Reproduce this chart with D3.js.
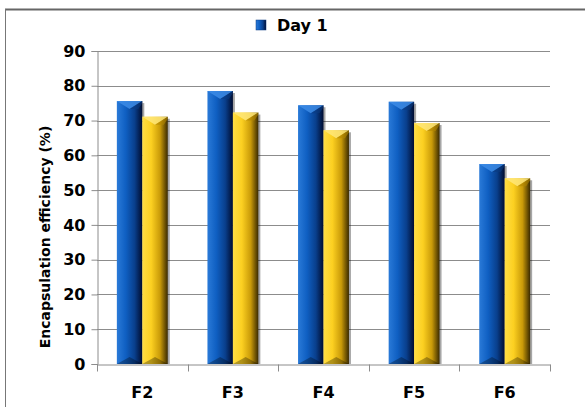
<!DOCTYPE html>
<html>
<head>
<meta charset="utf-8">
<script src="https://cdn.jsdelivr.net/npm/d3@7"></script>
<style>
  body { margin: 0; background: #fff; }
  svg { display: block; }
  text { font-family: "DejaVu Sans", sans-serif; font-weight: bold; fill: #000; }
</style>
</head>
<body>
<svg id="chart" width="585" height="407"></svg>
<script>
const categories = ["F2", "F3", "F4", "F5", "F6"]
const seriesNames = ["Day 1", "Day 2"]
const day1 = [75.6, 78.5, 74.4, 75.4, 57.5]
const day2 = [71.1, 72.3, 67.2, 69.3, 53.4]
const yTicks = [0, 10, 20, 30, 40, 50, 60, 70, 80, 90]

const values = [day1, day2]
const rows = categories.map((c, i) => ({cat: c, vals: values.map((v, s) => ({s: seriesNames[s], v: v[i]}))}))

const width = 585, height = 407
const margin = {left: 97, right: 35, top: 51, bottom: 43}

const svg = d3.select("svg#chart")

// frame (top + left lines only)
svg.append("line").attr("x1", 5).attr("x2", width).attr("y1", 9.5).attr("y2", 9.5)
  .attr("stroke", "#666").attr("stroke-width", 2)
svg.append("line").attr("x1", 5.5).attr("x2", 5.5).attr("y1", 9).attr("y2", height)
  .attr("stroke", "#777").attr("stroke-width", 1)

const y = d3.scaleLinear().domain([0, 90]).range([height - margin.bottom, margin.top])
const x0 = d3.scaleBand().domain(categories).range([margin.left, width - margin.right])
const x1 = d3.scaleBand().domain(seriesNames).range([0, x0.bandwidth()]).paddingOuter(0.78)

const defs = svg.append("defs")
const grads = {
  "Day 1": [["0%", "#2a7ad8"], ["35%", "#0f5fc2"], ["70%", "#093f8c"], ["100%", "#000c30"]],
  "Day 2": [["0%", "#ffdd44"], ["35%", "#fcd021"], ["70%", "#c99a08"], ["100%", "#3a2a00"]]
}
const tops = {"Day 1": ["#3d8ce6", "#0a3a80"], "Day 2": ["#ffe77a", "#b08500"]}
Object.entries(grads).forEach(([k, stops], i) => {
  const g = defs.append("linearGradient").attr("id", "g" + i).attr("x1", "0").attr("x2", "1").attr("y1", "0").attr("y2", "0")
  stops.forEach(([o, c]) => g.append("stop").attr("offset", o).attr("stop-color", c))
})

// gridlines
svg.append("g")
  .selectAll("line")
  .data(yTicks.slice(1))
  .join("line")
    .attr("x1", margin.left).attr("x2", width - margin.right)
    .attr("y1", d => Math.round(y(d)) + 0.5).attr("y2", d => Math.round(y(d)) + 0.5)
    .attr("stroke", "#8c8c8c").attr("stroke-width", 1)

// y axis
const yAxis = svg.append("g")
  .attr("transform", `translate(${margin.left + 0.5},0)`)
  .call(d3.axisLeft(y).tickValues(yTicks).tickSize(6).tickPadding(6))
yAxis.select(".domain").attr("stroke", "#8c8c8c")
yAxis.selectAll(".tick line").attr("stroke", "#8c8c8c")
yAxis.selectAll("text").attr("font-size", 16).attr("font-family", "DejaVu Sans").attr("font-weight", "bold").attr("fill", "#000")

// x axis
const xAxis = svg.append("g")
  .attr("transform", `translate(0,${Math.round(y(0)) + 0.5})`)
  .call(d3.axisBottom(x0).tickSize(0).tickPadding(22))
xAxis.select(".domain").attr("stroke", "#8c8c8c")
xAxis.selectAll("text").attr("font-size", 16).attr("font-family", "DejaVu Sans").attr("font-weight", "bold").attr("fill", "#000")
xAxis.selectAll(".sep")
  .data(d3.range(categories.length + 1))
  .join("line")
    .attr("x1", i => Math.round(margin.left + i * x0.step()) + 0.5)
    .attr("x2", i => Math.round(margin.left + i * x0.step()) + 0.5)
    .attr("y1", 0).attr("y2", 7)
    .attr("stroke", "#8c8c8c")

// bars
const groups = svg.append("g")
  .selectAll("g")
  .data(rows)
  .join("g")
    .attr("transform", d => `translate(${x0(d.cat)},0)`)

const bar = groups.selectAll("g")
  .data(d => d.vals)
  .join("g")

// shadow
bar.append("rect")
  .attr("x", d => x1(d.s) + 2).attr("y", d => y(d.v) + 2)
  .attr("width", x1.bandwidth()).attr("height", d => y(0) - y(d.v) - 2)
  .attr("fill", "#000").attr("opacity", 0.35)

bar.append("rect")
  .attr("x", d => x1(d.s)).attr("y", d => y(d.v))
  .attr("width", x1.bandwidth()).attr("height", d => y(0) - y(d.v))
  .attr("fill", d => `url(#g${seriesNames.indexOf(d.s)})`)

// top bevel
const bev = 8
bar.append("path")
  .attr("d", d => {
    const xl = x1(d.s), xr = xl + x1.bandwidth(), yt = y(d.v), xm = (xl + xr) / 2
    return `M${xl},${yt}L${xr},${yt}L${xm},${yt + bev}Z`
  })
  .attr("fill", d => tops[d.s][0]).attr("opacity", 0.85)
bar.append("path")
  .attr("d", d => {
    const xl = x1(d.s), xr = xl + x1.bandwidth(), yt = y(d.v), xm = (xl + xr) / 2
    return `M${xr},${yt}L${xm},${yt + bev}L${xr - 4},${yt + bev}L${xr},${yt + 2}Z`
  })
  .attr("fill", d => tops[d.s][1]).attr("opacity", 0.6)
// bottom bevel
bar.append("path")
  .attr("d", d => {
    const xl = x1(d.s), xr = xl + x1.bandwidth(), yb = y(0), xm = (xl + xr) / 2
    return `M${xl},${yb}L${xr},${yb}L${xm},${yb - 7}Z`
  })
  .attr("fill", "#000").attr("opacity", 0.3)

// y title
svg.append("text")
  .attr("transform", `translate(50,237) rotate(-90)`)
  .attr("text-anchor", "middle")
  .attr("font-family", "Liberation Sans")
  .attr("font-size", 14)
  .text("Encapsulation efficiency (%)")

// legend (only first series shown)
const leg = svg.append("g").attr("transform", "translate(256,20)")
leg.append("rect").attr("width", 10).attr("height", 10).attr("fill", "url(#g0)").attr("stroke", "#0a3a80").attr("stroke-width", 0.5)
leg.append("text").attr("x", 21).attr("y", 11).attr("font-size", 16).text(seriesNames[0])
</script>
</body>
</html>
